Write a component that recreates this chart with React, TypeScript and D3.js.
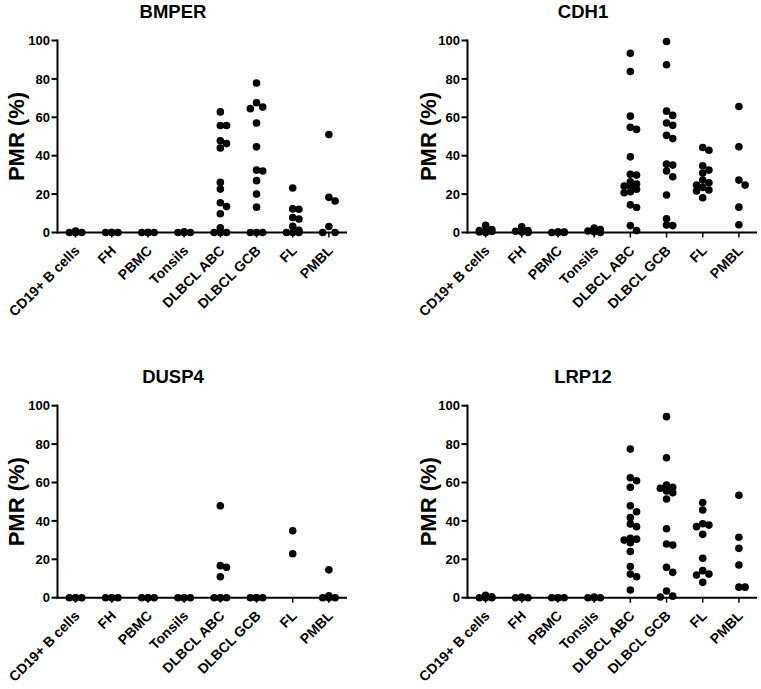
import React from "react";
import * as d3 from "d3";

const categories = ["CD19+ B cells", "FH", "PBMC", "Tonsils", "DLBCL ABC", "DLBCL GCB", "FL", "PMBL"];
const yTicks = [0, 20, 40, 60, 80, 100];

const bmperValues: number[][] = [
  [0.8, 0, 0, 0, 0],
  [0, 0, 0, 0],
  [0, 0, 0, 0],
  [0.3, 0, 0, 0],
  [62.8, 55.7, 55.7, 47.8, 46.3, 44.0, 26.1, 22.6, 15.5, 13.5, 9.8, 2.5, 0, 0, 0, 0],
  [77.9, 67.6, 65.3, 64.5, 57.0, 44.6, 32.5, 32.0, 27.0, 20.0, 13.2, 0, 0, 0],
  [23.2, 12.3, 12.1, 7.8, 7.0, 3.2, 1.2, 0, 0, 0],
  [51.0, 18.3, 16.4, 3.1, 0, 0],
];

const cdh1Values: number[][] = [
  [3.8, 1.5, 1.0, 0.8, 0.5, 0.3, 0],
  [3.0, 1.0, 0.6, 0.3, 0],
  [0.3, 0.2, 0, 0, 0],
  [2.3, 1.5, 0.8, 0.4, 0],
  [93.3, 83.8, 60.6, 54.8, 53.7, 39.4, 30.3, 29.9, 26.4, 25.2, 24.2, 24.2, 22.5, 21.2, 20.7, 14.4, 13.0, 3.6, 1.0],
  [99.5, 87.4, 63.2, 61.0, 57.0, 55.8, 50.6, 48.9, 35.6, 35.1, 32.0, 29.0, 19.5, 7.1, 3.9, 3.6],
  [44.3, 42.8, 34.8, 32.5, 31.0, 27.3, 25.9, 24.7, 23.5, 22.1, 21.6, 18.1],
  [65.6, 44.6, 27.3, 24.7, 13.2, 4.0],
];

const dusp4Values: number[][] = [
  [0, 0, 0, 0],
  [0, 0, 0, 0],
  [0, 0, 0, 0],
  [0, 0, 0, 0],
  [47.9, 16.7, 15.8, 10.9, 0, 0, 0, 0],
  [0, 0, 0, 0],
  [34.9, 22.9],
  [14.5, 1.0, 0, 0, 0],
];

const lrp12Values: number[][] = [
  [1.2, 0.5, 0, 0, 0],
  [0.3, 0, 0, 0],
  [0, 0, 0, 0],
  [0.4, 0, 0, 0],
  [77.4, 62.5, 60.9, 57.5, 47.9, 44.8, 41.7, 38.4, 37.0, 30.9, 30.5, 30.0, 28.6, 24.0, 16.2, 12.3, 10.9, 4.0],
  [94.3, 72.9, 58.7, 57.5, 57.0, 55.6, 54.7, 51.4, 35.9, 28.0, 27.4, 15.8, 13.2, 3.5, 0.8, 0.4],
  [49.6, 45.7, 38.5, 37.8, 37.0, 33.0, 20.5, 14.1, 12.3, 11.8, 8.0],
  [53.3, 31.5, 25.7, 17.0, 5.5, 5.5],
];

const panels = [
  { title: "BMPER", values: bmperValues, dx: 0, dy: 0, labelX: 24 },
  { title: "CDH1", values: cdh1Values, dx: 410, dy: 0, labelX: 26 },
  { title: "DUSP4", values: dusp4Values, dx: 0, dy: 365.2, labelX: 24 },
  { title: "LRP12", values: lrp12Values, dx: 410, dy: 365.2, labelX: 26 },
];

const FONT = "'Liberation Sans', Arial, Helvetica, sans-serif";

function swarm(vals: number[], y: (v: number) => number, step: number, thr: number) {
  const placed: { v: number; py: number; off: number }[] = [];
  for (const v of vals) {
    const py = y(v);
    const cands = [0, step, -step];
    let best = 0;
    let bestD = -1;
    for (const c of cands) {
      let minD = Infinity;
      for (const p of placed) {
        const d = Math.hypot(p.off - c, p.py - py);
        if (d < minD) minD = d;
      }
      if (minD >= thr) {
        best = c;
        break;
      }
      if (minD > bestD) {
        bestD = minD;
        best = c;
      }
    }
    placed.push({ v, py, off: best });
  }
  return placed;
}

function Panel({ title, values, dx, dy, labelX }: any) {
  const x0 = 57.5;
  const x1 = 347;
  const yTop = 40.5;
  const yBot = 232.5;
  const x = d3.scalePoint<string>().domain(categories).range([x0, x1]).padding(0.5);
  const y = d3.scaleLinear().domain([0, 100]).range([yBot, yTop]);
  return (
    <g transform={`translate(${dx},${dy})`} fontFamily={FONT} fontWeight="bold">
      <text x={173} y={18} textAnchor="middle" fontSize={18.5}>{title}</text>
      <text transform={`translate(${labelX},${(yTop + yBot) / 2}) rotate(-90)`} textAnchor="middle" fontSize={22}>
        PMR (%)
      </text>
      {yTicks.map((t) => (
        <g key={t}>
          <line x1={x0 - 6} x2={x0} y1={y(t)} y2={y(t)} stroke="#000" strokeWidth={2} />
          <text x={x0 - 7.5} y={y(t)} dy="0.36em" textAnchor="end" fontSize={13}>{t}</text>
        </g>
      ))}
      <line x1={x0} x2={x0} y1={yTop - 1} y2={yBot + 1} stroke="#000" strokeWidth={2} />
      <line x1={x0 - 1} x2={x1} y1={yBot} y2={yBot} stroke="#000" strokeWidth={2} />
      {categories.map((c) => {
        const cx = x(c) as number;
        return (
          <g key={c}>
            <line x1={cx} x2={cx} y1={yBot} y2={yBot + 5} stroke="#000" strokeWidth={1.5} />
            <text transform={`translate(${cx + 5},${yBot + 19}) rotate(-45)`} textAnchor="end" fontSize={14}>
              {c}
            </text>
          </g>
        );
      })}
      {categories.map((c, i) =>
        swarm(values[i], y, 6.2, 6).map((p, j) => (
          <circle key={`${c}-${j}`} cx={(x(c) as number) + p.off} cy={p.py} r={3.8} fill="#000" />
        ))
      )}
    </g>
  );
}

export default function App() {
  return (
    <div style={{ position: "absolute", left: 0, top: 0 }}>
      <svg width={761} height={689} style={{ display: "block", background: "#fff" }}>
        <rect width={761} height={689} fill="#fff" />
        {panels.map((p) => (
          <Panel key={p.title} {...p} />
        ))}
      </svg>
    </div>
  );
}
